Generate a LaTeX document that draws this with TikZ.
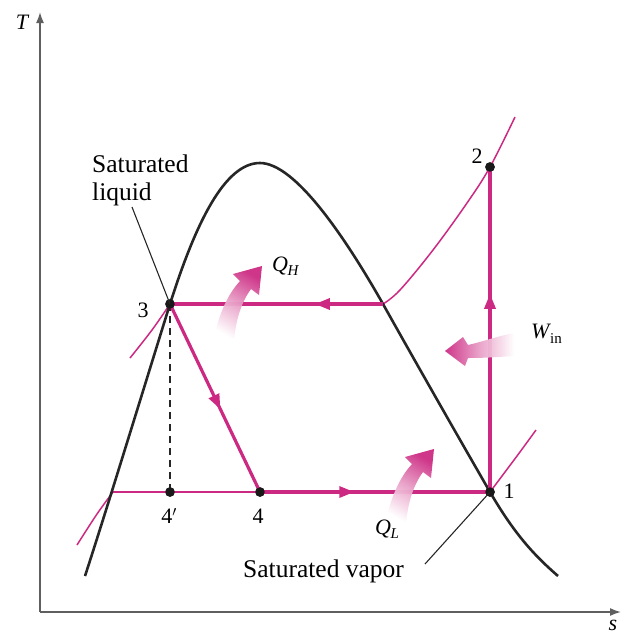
\documentclass[tikz,border=0pt]{standalone}
\usepackage{fontspec}
\setmainfont{Liberation Serif}
\usetikzlibrary{arrows.meta,decorations.markings}
\definecolor{mag}{RGB}{204,42,130}
\definecolor{axgray}{RGB}{95,95,95}
\begin{document}
\begin{tikzpicture}[x=1pt,y=-1pt,
  axis/.style={draw=axgray,line width=1.6pt,-{Latex[length=11pt,width=8pt]}},
  dome/.style={draw=black!85,line width=2.6pt},
  cyc/.style={draw=mag,line width=3.2pt},
  iso/.style={draw=mag,line width=1.5pt},
  midarrow/.style={postaction={decorate},decoration={markings,
     mark=at position #1 with {\arrow{Triangle[length=15pt,width=11pt]}}}},
  dot/.style={circle,fill=black!90,inner sep=0pt,minimum size=9.5pt},
  lbl/.style={inner sep=0pt,font=\fontsize{25.5}{28}\selectfont},
  num/.style={inner sep=0pt,font=\fontsize{22}{24}\selectfont},
  leader/.style={draw=black!85,line width=1.1pt},
  fat/.style={draw=none}
]
\useasboundingbox (0,0) rectangle (629,638);

% axes
\coordinate (o) at (40,612);
\coordinate (ytop) at (40,12);
\coordinate (xend) at (621,612);
\draw[axis] (o) -- (ytop);
\draw[axis] (o) -- (xend);
\node[num,font=\fontsize{22}{24}\selectfont\itshape] (tl) at (22,22) {T};
\node[num,font=\fontsize{22}{24}\selectfont\itshape] (sl) at (613,625) {s};

% state points
\node[dot] (p1) at (490,492) {};
\node[dot] (p2) at (490,167) {};
\node[dot] (p3) at (170,304) {};
\node[dot] (p4) at (260,492) {};
\node[dot] (p4p) at (170,492) {};
\coordinate (c3r) at (383,304);
\coordinate (lowL) at (113,492);

% isobars (thin)
\draw[iso] plot[smooth,tension=0.6] coordinates {(383,304) (400,290) (433,250) (467,203) (490,167) (515,117)};
\draw[iso] plot[smooth,tension=0.6] coordinates {(490,492) (517,456) (536,430)};
\draw[iso] plot[smooth,tension=0.6] coordinates {(113,492) (97,514) (77,545)};
\draw[iso] plot[smooth,tension=0.6] coordinates {(130,358) (152,330) (170,304)};
\draw[iso] (lowL) -- (p4.center);

% dashed line
\draw[black!85,line width=1.1pt,dash pattern=on 7pt off 5pt] (p3.center) -- (p4p.center);

% dome
\draw[dome] (85,576) .. controls (105,515) and (150,368) .. (170,304)
  .. controls (196,222) and (225,163) .. (260,163)
  .. controls (295,163) and (345,237) .. (383,304)
  .. controls (420,370) and (460,440) .. (490,492)
  .. controls (515,535) and (535,556) .. (558,576);

% cycle
\draw[cyc,midarrow=0.41] (p4.center) -- (p1.center);
\draw[cyc,midarrow=0.61] (p1.center) -- (p2.center);
\draw[cyc,midarrow=0.32] (c3r) -- (p3.center);
\draw[cyc,midarrow=0.56] (p3.center) -- (p4.center);

% redraw dots on top
\node[dot] at (p1) {};
\node[dot] at (p2) {};
\node[dot] at (p3) {};
\node[dot] at (p4) {};
\node[dot] at (p4p) {};

% leaders
\coordinate (sl1) at (132,207);
\coordinate (sv1) at (425,564);
\draw[leader] (sl1) -- (p3.center);
\draw[leader] (sv1) -- (p1.center);

% fat arrows
\shade[fat,top color=mag,bottom color=white,middle color=mag!45,shading angle=-30,opacity=0.95]
  (213,340) .. controls (221,306) and (231,291) .. (240,281) -- (233,274) -- (262,266) -- (259,295) -- (251,289)
  .. controls (243,300) and (236,316) .. (234,342) -- cycle;
\begin{scope}[shift={(172,183)}]
\shade[fat,top color=mag,bottom color=white,middle color=mag!45,shading angle=-30,opacity=0.95]
  (213,340) .. controls (221,306) and (231,291) .. (240,281) -- (233,274) -- (262,266) -- (259,295) -- (251,289)
  .. controls (243,300) and (236,316) .. (234,342) -- cycle;
\end{scope}
\shade[fat,left color=mag,right color=white,middle color=mag!45,opacity=0.95]
  (445,351) -- (463,337) -- (468,345) .. controls (485,341) and (498,336) .. (514,333)
  -- (514,356) .. controls (498,357) and (485,358) .. (468,358) -- (465,366) -- cycle;

% labels
\node[lbl,anchor=base west] (satl1) at (92,172) {Saturated};
\node[lbl,anchor=base west] (satl2) at (92,200) {liquid};
\node[lbl,anchor=base west] (satv) at (243,577) {Saturated vapor};
\node[num] (n1) at (509,491) {1};
\node[num] (n2) at (477,156) {2};
\node[num] (n3) at (143,310) {3};
\node[num] (n4) at (258,516) {4};
\node[num] (n4p) at (169,516) {4$'$};
\node[num,anchor=base west] (qh) at (272,271) {\textit{Q}\kern-0.5pt\raisebox{-4pt}{\fontsize{15}{15}\selectfont\textit{H}}};
\node[num,anchor=base west] (ql) at (375,534) {\textit{Q}\kern-0.5pt\raisebox{-4pt}{\fontsize{15}{15}\selectfont\textit{L}}};
\node[num,anchor=base west] (win) at (531,338) {\textit{W}\kern-1pt\raisebox{-5pt}{\fontsize{15}{15}\selectfont in}};
\end{tikzpicture}
\end{document}
